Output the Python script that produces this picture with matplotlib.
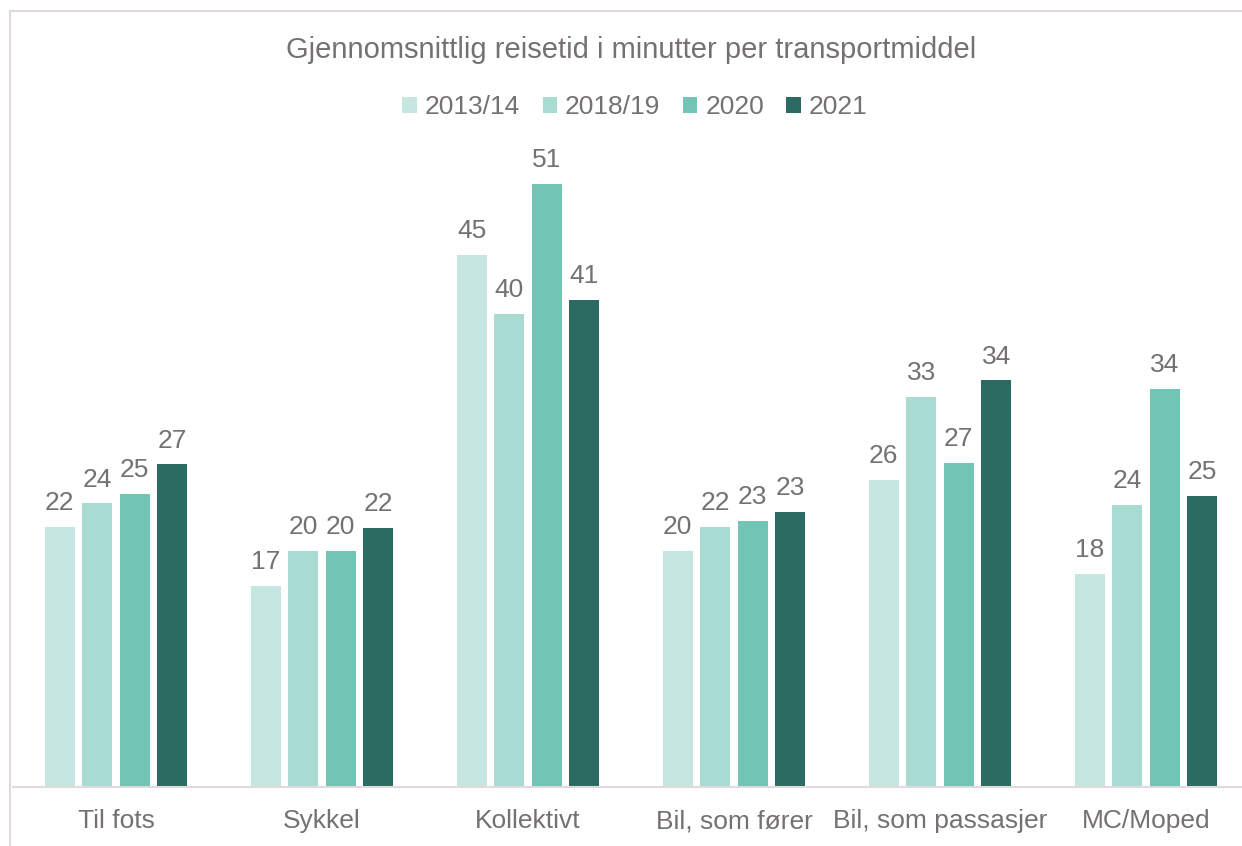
import matplotlib.pyplot as plt
import numpy as np

plt.rcParams['font.family'] = ['Liberation Sans', 'DejaVu Sans']

categories = ['Til fots', 'Sykkel', 'Kollektivt', 'Bil, som fører',
              'Bil, som passasjer', 'MC/Moped']
years = ['2013/14', '2018/19', '2020', '2021']
# minutes, labels shown rounded (Excel-style half up)
v2013 = [22.0, 17.0, 45.0, 20.0, 26.0, 18.0]
v2018 = [24.0, 20.0, 40.0, 22.0, 33.0, 23.9]
v2020 = [24.8, 20.0, 51.0, 22.5, 27.4, 33.7]
v2021 = [27.3, 21.9, 41.2, 23.3, 34.4, 24.6]
series = [v2013, v2018, v2020, v2021]
colors = ['#C6E7E1', '#A8DCD3', '#72C4B4', '#2C6B61']
grey = '#767171'

fig = plt.figure(figsize=(12.42, 8.46), dpi=100)
ax = fig.add_axes([13 / 1242, 59 / 846, 1236 / 1242, 650 / 846])

x = np.arange(len(categories))
step = 37.5 / 206
width = 30 / 206
for i, (vals, c, lab) in enumerate(zip(series, colors, years)):
    pos = x + (i - 1.5) * step
    bars = ax.bar(pos, vals, width, color=c, label=lab)
    for b, v in zip(bars, vals):
        ax.text(b.get_x() + b.get_width() / 2, v + 1.0, str(int(v + 0.5)),
                ha='center', va='bottom', fontsize=19, color=grey)

ax.set_xlim(-0.5, len(categories) - 0.5)
ax.set_ylim(0, 55)
ax.set_xticks(x)
ax.set_xticklabels(categories, fontsize=19, color=grey)
ax.tick_params(axis='x', length=0, pad=16)
ax.set_yticks([])
for s in ['top', 'right', 'left']:
    ax.spines[s].set_visible(False)
ax.spines['bottom'].set_color('#E3D9DD')
ax.spines['bottom'].set_linewidth(1.5)

fig.text(631 / 1242, 1 - 50 / 846, 'Gjennomsnittlig reisetid i minutter per transportmiddel',
         ha='center', va='center', fontsize=21, color=grey)
fig.legend(loc='center', bbox_to_anchor=(635 / 1242, 1 - 107 / 846), ncol=4,
           frameon=False, fontsize=19, labelcolor=grey, handlelength=0.55,
           handleheight=0.55, handletextpad=0.3, columnspacing=0.85)

# chart border (light frame)
fig.add_artist(plt.Line2D([10 / 1242, 1], [1 - 11 / 846, 1 - 11 / 846],
                          color='#E3D9DD', lw=1.5, transform=fig.transFigure))
fig.add_artist(plt.Line2D([10 / 1242, 10 / 1242], [0, 1 - 11 / 846],
                          color='#E3D9DD', lw=1.5, transform=fig.transFigure))

fig.savefig('out.png')
